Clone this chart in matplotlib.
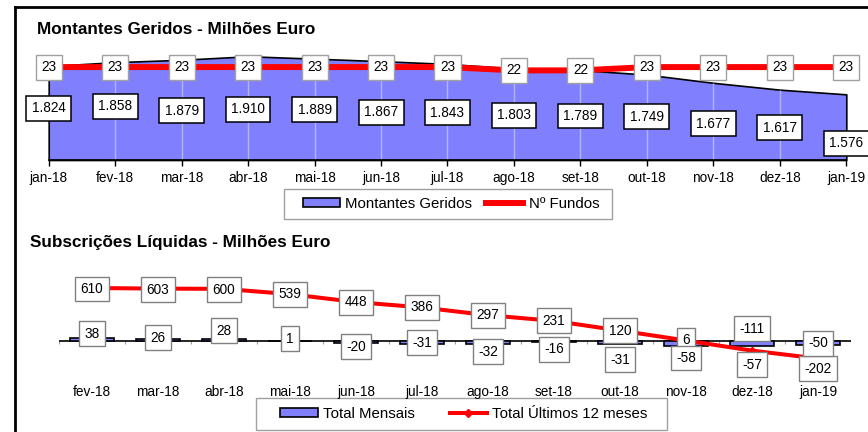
import numpy as np
import matplotlib
matplotlib.use("Agg")
import matplotlib.pyplot as plt
from matplotlib.patches import Patch, Rectangle
from matplotlib.lines import Line2D

plt.rcParams["font.family"] = ["Liberation Sans", "DejaVu Sans"]

# --- data: top chart (Montantes Geridos, milhões de euro) ---
meses_top = ["jan-18", "fev-18", "mar-18", "abr-18", "mai-18", "jun-18", "jul-18",
             "ago-18", "set-18", "out-18", "nov-18", "dez-18", "jan-19"]
montantes = [1824, 1858, 1879, 1910, 1889, 1867, 1843, 1803, 1789, 1749, 1677, 1617, 1576]
fundos = [23, 23, 23, 23, 23, 23, 23, 22, 22, 23, 23, 23, 23]

# --- data: bottom chart (Subscrições Líquidas) ---
meses_bot = ["fev-18", "mar-18", "abr-18", "mai-18", "jun-18", "jul-18",
             "ago-18", "set-18", "out-18", "nov-18", "dez-18", "jan-19"]
mensais = [38, 26, 28, 1, -20, -31, -32, -16, -31, -58, -57, -50]
total12 = [610, 603, 600, 539, 448, 386, 297, 231, 120, 6, -111, -202]

# label nudges in pixels (+ = down), labels were moved by hand in the original
dy_montantes = [42, 44, 51, 53, 51, 51, 49, 47, 46, 42, 41, 38, 49]
dy_mensais = [-4, -1, -8, -2, 4, -1, 8, 7, 16, 12, 19, -2]
dy_total12 = [1, 1, 1, 0, 0, 0, 0, 0, 0, 0, -22, 10]

BLUE = "#8080FF"
W, H = 868, 432
FS = 9.8


def px_rect(l, t, r, b):
    return [l / W, 1 - b / H, (r - l) / W, (b - t) / H]


def pt_fmt(v):
    return f"{v:,}".replace(",", ".")


def legend_frame(l, t, r, b):
    fig.add_artist(Rectangle((l / W, 1 - b / H), (r - l) / W, (b - t) / H,
                             transform=fig.transFigure, fc="none", ec="#A0A0A0",
                             lw=1.0, zorder=-1))


fig = plt.figure(figsize=(W / 100, H / 100), dpi=100)

# frame lines
fig.add_artist(Line2D([15 / W, 1], [1 - 7 / H, 1 - 7 / H], transform=fig.transFigure,
                      color="black", lw=2))
fig.add_artist(Line2D([15 / W, 15 / W], [0, 1 - 7 / H], transform=fig.transFigure,
                      color="black", lw=2))

# ---------------- top chart ----------------
fig.text(37 / W, 1 - 30 / H, "Montantes Geridos - Milhões Euro", fontsize=12.3,
         fontweight="bold", va="center")

ax1 = fig.add_axes(px_rect(48.7, 46, 846.3, 160))
ax1.patch.set_visible(False)
x = np.arange(len(montantes))
ax1.fill_between(x, 1000, montantes, facecolor=BLUE, edgecolor="black", lw=1.2,
                 zorder=1, clip_on=False)
ax1.vlines(x[1:-1], 1000, np.array(montantes)[1:-1], color="#B4B4FF", lw=1, zorder=1.5)
ax1.set_xlim(0, 12)
ax1.set_ylim(1000, 2000)
ax1.set_xticks(x, meses_top)
ax1.set_yticks([])
ax1.tick_params(axis="x", length=4, width=1, direction="out", pad=3.8, labelsize=FS)
for s in ["top", "left", "right"]:
    ax1.spines[s].set_visible(False)
ax1.spines["bottom"].set_linewidth(1.2)

for i, v in enumerate(montantes):
    ax1.annotate(pt_fmt(v), (i, v), xytext=(0, -dy_montantes[i]), textcoords="offset pixels",
                 ha="center", va="center", fontsize=FS, zorder=5,
                 bbox=dict(boxstyle="square,pad=0.4", fc="white", ec="black", lw=1.1))

ax2 = ax1.twinx()
ax2.set_ylim(-5.2, 29.4)
ax2.plot(x, fundos, color="red", lw=4.3, solid_capstyle="butt", zorder=3)
ax2.set_yticks([])
for s in ax2.spines.values():
    s.set_visible(False)
for i, v in enumerate(fundos):
    ax2.annotate(str(v), (i, v), ha="center", va="center", fontsize=FS, zorder=5,
                 bbox=dict(boxstyle="square,pad=0.4", fc="white", ec="#A0A0A0", lw=1))

legend_frame(284, 189, 612, 219)
fig.legend(handles=[Patch(facecolor=BLUE, edgecolor="black", lw=1.2),
                    Line2D([], [], color="red", lw=4.3)],
           labels=["Montantes Geridos", "Nº Fundos"],
           loc="center", bbox_to_anchor=(451 / W, 1 - 204 / H), ncol=2,
           frameon=False, fontsize=10.8,
           handlelength=2.5, handleheight=0.5, handletextpad=0.35,
           columnspacing=0.9, borderpad=0.3)

# ---------------- bottom chart ----------------
fig.text(30 / W, 1 - 243 / H, "Subscrições Líquidas - Milhões Euro", fontsize=12.3,
         fontweight="bold", va="center")

ax3 = fig.add_axes(px_rect(59, 280, 851, 378))
ax3.patch.set_visible(False)
xb = np.arange(len(mensais))
ax3.set_xlim(-0.5, 11.5)
ax3.set_ylim(-426, 702)
ax3.axhline(0, color="black", lw=1.2, zorder=1.8)
ax3.vlines(np.arange(-0.5, 12, 1), -40, 0, color="#A0A0A0", lw=0.8, zorder=1.7)
ax3.bar(xb, mensais, width=0.68, color=BLUE, edgecolor="black", lw=1.2, zorder=2)
ax3.plot(xb, total12, color="red", lw=2.9, marker="D", ms=4.5, zorder=3)
ax3.set_xticks(xb, meses_bot)
ax3.set_yticks([])
ax3.tick_params(axis="x", length=0, pad=5.0, labelsize=FS)
for s in ax3.spines.values():
    s.set_visible(False)

for i, v in enumerate(total12):
    ax3.annotate(str(v), (i, v), xytext=(0, -dy_total12[i]), textcoords="offset pixels",
                 ha="center", va="center", fontsize=FS, zorder=5,
                 bbox=dict(boxstyle="square,pad=0.4", fc="white", ec="#808080", lw=1))
for i, v in enumerate(mensais):
    ax3.annotate(str(v), (i, v), xytext=(0, -dy_mensais[i]), textcoords="offset pixels",
                 ha="center", va="center", fontsize=FS, zorder=5,
                 bbox=dict(boxstyle="square,pad=0.4", fc="white", ec="#808080", lw=1))

legend_frame(256, 398, 667, 430)
fig.legend(handles=[Patch(facecolor=BLUE, edgecolor="black", lw=1.2),
                    Line2D([], [], color="red", lw=2.9, marker="D", ms=4.5)],
           labels=["Total Mensais", "Total Últimos 12 meses"],
           loc="center", bbox_to_anchor=(464 / W, 1 - 414 / H), ncol=2,
           frameon=False, fontsize=10.8,
           handlelength=2.5, handleheight=0.5, handletextpad=0.35,
           columnspacing=2.3, borderpad=0.3)

fig.savefig("out.png", dpi=100)
